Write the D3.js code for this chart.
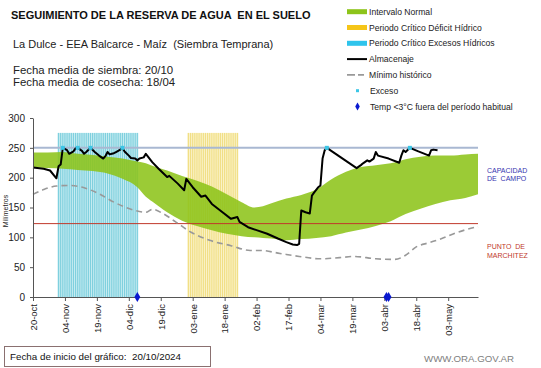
<!DOCTYPE html>
<html><head><meta charset="utf-8">
<script src="https://cdn.jsdelivr.net/npm/d3@7/dist/d3.min.js"></script>
<style>
body{margin:0;background:#fff;}
svg{display:block;font-family:"Liberation Sans",Arial,sans-serif;}
text{white-space:pre;}
</style></head>
<body><svg id="c" width="541" height="368"></svg>
<script>
// ---------- DATA ----------
const startDate = "2024-10-20";
const endDate = "2025-05-17";
const tickDays = [0,15,30,45,60,75,90,105,120,135,150,165,180,195];
const tickLabels = ["20-oct","04-nov","19-nov","04-dic","19-dic","03-ene","18-ene","02-feb","17-feb","04-mar","19-mar","03-abr","18-abr","03-may"];
const yTicks = [0,50,100,150,200,250,300];

// Intervalo normal (upper / lower), day offsets from start
const normalDays  = [0,7,14,21,28,35,42,49,53,56,63,70,77,84,91,98,104,108,112,119,126,133,140,147,154,161,168,175,182,189,196,203,209];
const normalUpper = [242,242,243,240,238,235,232,227,224,220,212,203,195,185,172,159,150,152,157,165,171,180,197,210,218,221,224,231,235,237,237,239,240];
const normalLower = [217,216,215,213,211,207,198,184,168,160,142,128,119,112,106,102,100,99,98,95,97,99,102,108,113,119,127,139,148,156,162,166,172];

// Minimo historico
const minDays = [0,5,11,17,24,31,38,46,53,56,61,67,74,83,93,102,107,116,125,135,144,151,161,170,175,180,186,192,199,209];
const minVals = [172,180,186,187,183,173,159,147,142,147,140,126,109,95,86,78,78,73,68,64,66,68,64,63,70,84,91,98,108,118];

// Almacenaje
const storeDays = [0,5,8,11,12,13,14,16,17,19,20,21,23,24,25,27,29,31,33,34,35,36,37,38,39,41,42,43,45,46,48,49,50,52,53,56,59,63,64,68,71,72,75,79,81,84,89,93,96,97,101,105,110,115,119,122,124,125,126,128,130,131,132,134,135,136,137,138,152,154,155,157,158,160,161,162,167,172,173,174,175,177,181,186,187,188,190];
const storeVals = [217,215,212,199,219,222,250,246,240,244,249,250,245,240,243,250,243,237,232,236,243,239,240,241,243,247,250,244,237,233,232,229,232,234,240,226,215,201,203,190,179,198,184,168,170,156,142,131,134,126,117,112,106,98,92,88,87,89,145,142,140,170,175,184,187,232,246,250,216,221,224,229,227,232,243,237,232,225,237,246,243,250,244,237,246,247,246];

// Exceso points and frost (Temp <3°C) points
const excessDays = [14,21,27,42,138,177];
const excessVals = [250,250,250,250,250,250];
const frostDays = [49,166,167];
const frostVals = [0,0,0];

// Critical periods [first day, last day]
const excessPeriod = [12,49];
const deficitPeriod = [73,96];
const periodTop = 275;

const fieldCapacity = 250;
const wiltingPoint = 123;

// ---------- CHART ----------
const svg = d3.select("#c");
const t0 = d3.timeParse("%Y-%m-%d")(startDate);
const t1 = d3.timeParse("%Y-%m-%d")(endDate);
const D = d => d3.timeHour.offset(t0, d*24);
const x = d3.scaleTime().domain([t0,t1]).range([33,478]);
const y = d3.scaleLinear().domain([0,300]).range([297,118]);

// critical period stripes
function stripes(period, bg, fg){
  const g = svg.append("g");
  g.append("rect").attr("x", x(D(period[0]-0.5))).attr("y", y(periodTop))
    .attr("width", x(D(period[1]+0.5))-x(D(period[0]-0.5))).attr("height", y(0)-y(periodTop))
    .attr("fill", bg);
  g.selectAll("rect.s").data(d3.range(period[0], period[1]+1)).join("rect").attr("class","s")
    .attr("x", d => x(D(d))-0.6).attr("y", y(periodTop)).attr("width",1.2)
    .attr("height", y(0)-y(periodTop)).attr("fill", fg);
}
stripes(excessPeriod, "#cdeef3", "#7fd0de");
stripes(deficitPeriod, "#fbf4cf", "#f1df86");

// normal band
const band = normalDays.map((d,i)=>({d, u:normalUpper[i], l:normalLower[i]}));
svg.append("path").datum(band)
  .attr("d", d3.area().x(p=>x(D(p.d))).y0(p=>y(p.l)).y1(p=>y(p.u)).curve(d3.curveMonotoneX))
  .attr("fill","#8dc41a").attr("fill-opacity",0.88);

// reference lines
svg.append("line").attr("x1",33).attr("x2",478).attr("y1",y(fieldCapacity)).attr("y2",y(fieldCapacity))
  .attr("stroke","#a9b8d2").attr("stroke-width",2);
svg.append("line").attr("x1",33).attr("x2",478).attr("y1",y(wiltingPoint)).attr("y2",y(wiltingPoint))
  .attr("stroke","#c0392b").attr("stroke-width",1);

// minimo historico
svg.append("path").datum(minDays.map((d,i)=>[d,minVals[i]]))
  .attr("d", d3.line().x(p=>x(D(p[0]))).y(p=>y(p[1])).curve(d3.curveMonotoneX))
  .attr("fill","none").attr("stroke","#999").attr("stroke-width",1.6).attr("stroke-dasharray","6,4");

// almacenaje
svg.append("path").datum(storeDays.map((d,i)=>[d,storeVals[i]]))
  .attr("d", d3.line().x(p=>x(D(p[0]))).y(p=>y(p[1])))
  .attr("fill","none").attr("stroke","#000").attr("stroke-width",2).attr("stroke-linejoin","round");

// exceso points
svg.selectAll("rect.ex").data(excessDays.map((d,i)=>[d,excessVals[i]])).join("rect").attr("class","ex")
  .attr("x",p=>x(D(p[0]))-2).attr("y",p=>y(p[1])-2).attr("width",4).attr("height",4)
  .attr("fill","#3cc6e6");

// axes
const yAxis = d3.axisLeft(y).tickValues(yTicks).tickSize(3).tickSizeOuter(0).tickPadding(5);
const gy = svg.append("g").attr("transform","translate(33,0)").call(yAxis);
gy.select(".domain").attr("stroke","#555");
gy.selectAll(".tick line").attr("stroke","#555");
gy.selectAll("text").attr("font-size",10).attr("fill","#222").attr("font-family","Liberation Sans, Arial, sans-serif");

const xAxis = d3.axisBottom(x).tickValues(tickDays.map(D)).tickFormat((d,i)=>tickLabels[i]).tickSize(4).tickSizeOuter(0);
const gx = svg.append("g").attr("transform","translate(0,297)").call(xAxis);
gx.select(".domain").attr("stroke","#555");
gx.selectAll(".tick line").attr("stroke","#555");
gx.selectAll("text").attr("font-size",9.5).attr("fill","#222").attr("font-family","Liberation Sans, Arial, sans-serif")
  .attr("transform","rotate(-90)").attr("text-anchor","end").attr("x",-7).attr("y",0).attr("dy","0.35em");

// frost diamonds
svg.selectAll("path.fr").data(frostDays.map((d,i)=>[d,frostVals[i]])).join("path").attr("class","fr")
  .attr("d", d3.symbol().type(d3.symbolDiamond).size(30))
  .attr("transform",p=>`translate(${x(D(p[0]))},${y(p[1])})`).attr("fill","#0a1ad0");

svg.append("text").attr("transform","translate(8,211) rotate(-90)").attr("text-anchor","middle")
  .attr("font-size",7).attr("fill","#222").text("Milímetros");

// titles
svg.append("text").attr("x",11).attr("y",19).attr("font-size",11).attr("font-weight","bold").attr("fill","#111")
  .text("SEGUIMIENTO DE LA RESERVA DE AGUA  EN EL SUELO");
svg.append("text").attr("x",13).attr("y",48).attr("font-size",11).attr("fill","#222")
  .text("La Dulce - EEA Balcarce - Maíz  (Siembra Temprana)");
svg.append("text").attr("x",13).attr("y",74).attr("font-size",11.4).attr("fill","#222")
  .text("Fecha media de siembra: 20/10");
svg.append("text").attr("x",13).attr("y",86).attr("font-size",11.4).attr("fill","#222")
  .text("Fecha media de cosecha: 18/04");

// legend
const legItems = ["Intervalo Normal","Periodo Crítico Déficit Hídrico","Periodo Crítico Excesos Hídricos","Almacenaje","Mínimo histórico","Exceso","Temp <3°C fuera del período habitual"];
const lg = svg.append("g");
legItems.forEach((t,i)=>{
  const cy = 11.7 + i*15.8;
  if(i<3){
    lg.append("rect").attr("x",347).attr("y",cy-2.5).attr("width",20).attr("height",5)
      .attr("fill",["#8dc41a","#f5c518","#2fc4ec"][i]);
  } else if(i===3){
    lg.append("line").attr("x1",347).attr("x2",367).attr("y1",cy).attr("y2",cy).attr("stroke","#000").attr("stroke-width",2);
  } else if(i===4){
    lg.append("line").attr("x1",347).attr("x2",367).attr("y1",cy).attr("y2",cy).attr("stroke","#999").attr("stroke-width",1.6).attr("stroke-dasharray","8,3,6,10");
  } else if(i===5){
    lg.append("rect").attr("x",356).attr("y",cy-1.5).attr("width",3).attr("height",3).attr("fill","#3cc6e6");
  } else {
    lg.append("path").attr("d",d3.symbol().type(d3.symbolDiamond).size(18)).attr("transform",`translate(357.5,${cy})`).attr("fill","#0a1ad0");
  }
  lg.append("text").attr("x", i>=5?370:369).attr("y",cy+3).attr("font-size",8.6).attr("fill","#222").text(t);
});

// right labels
svg.append("text").attr("x",487).attr("y",173).attr("font-size",7).attr("fill","#3535b0").text("CAPACIDAD");
svg.append("text").attr("x",487).attr("y",181).attr("font-size",7).attr("fill","#3535b0").text("DE  CAMPO");
svg.append("text").attr("x",487).attr("y",249).attr("font-size",7).attr("fill","#c0392b").text("PUNTO  DE");
svg.append("text").attr("x",487).attr("y",258).attr("font-size",7).attr("fill","#c0392b").text("MARCHITEZ");

// bottom
svg.append("rect").attr("x",4.5).attr("y",346.5).attr("width",206).attr("height",20).attr("fill","#fff").attr("stroke","#8a7070");
svg.append("text").attr("x",10).attr("y",360).attr("font-size",9.8).attr("fill","#111").text("Fecha de inicio del gráfico:  20/10/2024");
svg.append("text").attr("x",424).attr("y",362).attr("font-size",9.7).attr("fill","#808080").text("WWW.ORA.GOV.AR");
</script></body></html>
